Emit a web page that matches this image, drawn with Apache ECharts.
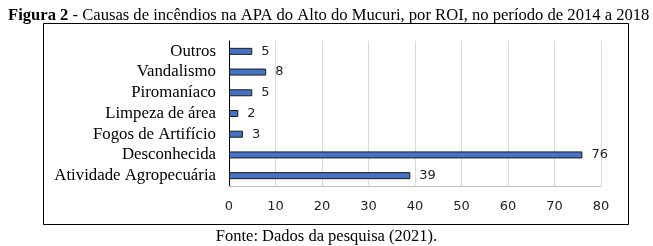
<!DOCTYPE html>
<html><head><meta charset="utf-8">
<script src="https://cdn.jsdelivr.net/npm/echarts@6/dist/echarts.min.js"></script>
<style>html,body{margin:0;padding:0;background:#fff}#c{width:653px;height:246px}</style>
</head><body><div id="c"></div>
<script>
const categories = ["Atividade Agropecuária","Desconhecida","Fogos de Artifício","Limpeza de área","Piromaníaco","Vandalismo","Outros"];
const values = [39, 76, 3, 2, 5, 8, 5];
const xTicks = [0,10,20,30,40,50,60,70,80];
const titleBold = "Figura 2";
const titleRest = " - Causas de incêndios na APA do Alto do Mucuri, por ROI, no período de 2014 a 2018";
const footer = "Fonte: Dados da pesquisa (2021).";

const chart = echarts.init(document.getElementById('c'), null, {renderer:'canvas'});
chart.setOption({
  animation:false,
  title:{
    left:3, top:2,
    text:'{b|'+titleBold+'}{n|'+titleRest+'}',
    textStyle:{fontWeight:'normal',rich:{
      b:{fontFamily:'Liberation Serif',fontWeight:'bold',fontSize:16.6,color:'#000'},
      n:{fontFamily:'Liberation Serif',fontWeight:'normal',fontSize:16.6,color:'#000'}
    }}
  },
  graphic:[
    {type:'rect',shape:{x:43.5,y:23.5,width:585,height:201},style:{fill:'none',stroke:'#000',lineWidth:1},silent:true},
    {type:'text',left:'center',top:228,style:{text:footer,font:'16.5px "Liberation Serif"',fill:'#000'}}
  ],
  grid:{left:229,right:52,top:41,bottom:60},
  xAxis:{type:'value',min:0,max:80,interval:10,
    axisLine:{show:true,lineStyle:{color:'#bfbfbf'}},
    axisTick:{show:false},
    splitLine:{lineStyle:{color:'#d9d9d9',width:1}},
    axisLabel:{margin:14,fontFamily:'DejaVu Sans',fontSize:13,color:'#222',
      formatter:v=>xTicks.includes(v)?String(v):''}
  },
  yAxis:{type:'category',data:categories,
    axisLine:{lineStyle:{color:'#000'}},axisTick:{show:false},
    axisLabel:{interval:0,margin:13,fontFamily:'Liberation Serif',fontSize:16.8,color:'#000'}
  },
  series:[{type:'bar',data:values,barWidth:7,
    itemStyle:{color:'#4472C4',borderColor:'#1a1a1a',borderWidth:1},
    label:{show:true,position:'right',distance:9,fontFamily:'DejaVu Sans',fontSize:13,color:'#222'}
  }]
});
</script></body></html>
